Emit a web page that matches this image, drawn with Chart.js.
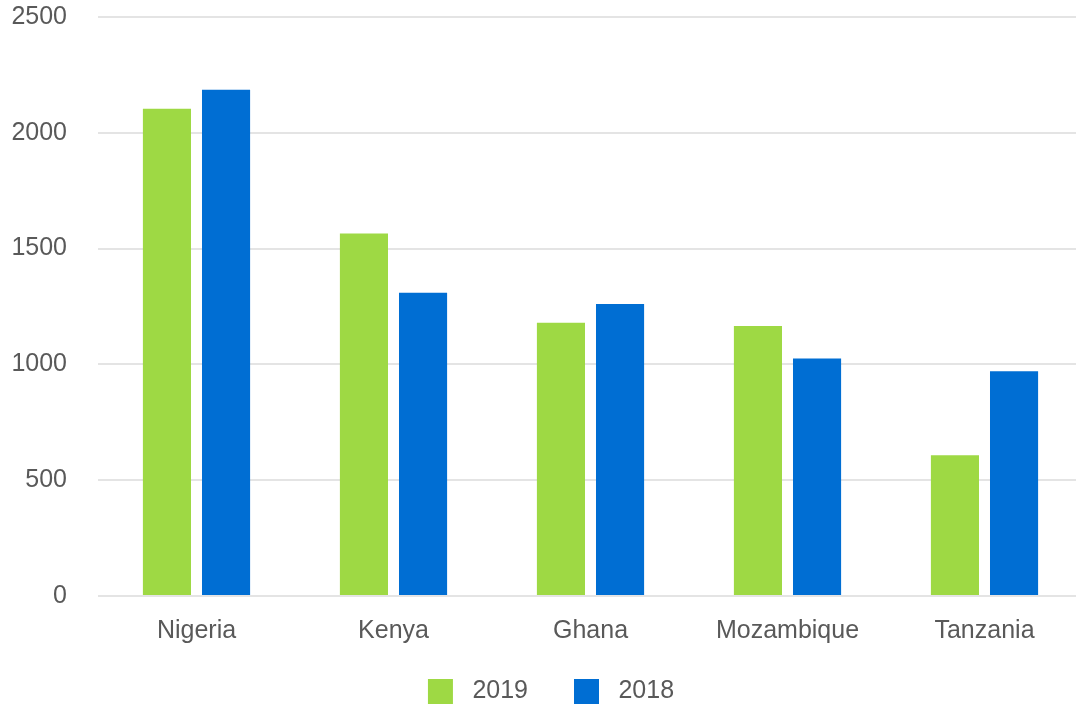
<!DOCTYPE html>
<html>
<head>
<meta charset="utf-8">
<script src="https://cdn.jsdelivr.net/npm/chart.js@4/dist/chart.umd.min.js"></script>
<style>
  html, body { margin: 0; padding: 0; background: #ffffff; overflow: hidden; }
  #wrap { position: relative; width: 1102px; height: 711px; }
</style>
</head>
<body>
<div id="wrap"><canvas id="c"></canvas></div>
<script>
const categories = ["Nigeria", "Kenya", "Ghana", "Mozambique", "Tanzania"];
const seriesNames = ["2019", "2018"];
const values2019 = [2104, 1565, 1180, 1166, 608];
const values2018 = [2186, 1309, 1261, 1025, 970];
const yTicks = [0, 500, 1000, 1500, 2000, 2500];

const FONT = "'Liberation Sans', Arial, sans-serif";
const TEXT = "#595959";

const legendShift = {
  id: 'legendShift',
  afterLayout(chart) {
    const lg = chart.legend;
    if (lg) { lg.left += 4; lg.right += 4; lg.top -= 33; lg.bottom -= 33; }
  }
};

new Chart(document.getElementById('c'), {
  type: 'bar',
  data: {
    labels: categories,
    datasets: [
      { label: seriesNames[0], data: values2019, backgroundColor: '#9ed944', borderWidth: 0,
        categoryPercentage: 0.6, barPercentage: 0.814 },
      { label: seriesNames[1], data: values2018, backgroundColor: '#006ed3', borderWidth: 0,
        categoryPercentage: 0.6, barPercentage: 0.814 }
    ]
  },
  plugins: [legendShift],
  options: {
    responsive: true,
    maintainAspectRatio: false,
    animation: false,
    layout: { padding: { left: 11, right: 19, top: 17, bottom: -36 } },
    plugins: {
      tooltip: { enabled: false },
      legend: {
        position: 'bottom',
        labels: {
          font: { family: FONT, size: 25 },
          color: TEXT,
          boxWidth: 25,
          boxHeight: 25,
          padding: 46,
          generateLabels: function(chart) {
            return chart.data.datasets.map((ds, i) => ({
              text: ' ' + ds.label,
              fillStyle: ds.backgroundColor,
              strokeStyle: ds.backgroundColor,
              lineWidth: 0,
              hidden: false,
              datasetIndex: i,
              fontColor: TEXT
            }));
          }
        }
      }
    },
    scales: {
      x: {
        grid: { display: false, drawTicks: false },
        border: { display: false },
        ticks: { font: { family: FONT, size: 25 }, color: TEXT, padding: 20 }
      },
      y: {
        min: 0,
        max: 2500,
        afterBuildTicks: function(axis) { axis.ticks = yTicks.map(v => ({ value: v })); },
        afterFit: function(scale) { scale.width = 87; scale.paddingTop = 0; scale.paddingBottom = 0; },
        grid: { color: '#e4e4e4', lineWidth: 2, drawTicks: false },
        border: { display: false },
        ticks: { font: { family: FONT, size: 25 }, color: TEXT, padding: 31,
                 callback: function(v) { return String(v); } }
      }
    }
  }
});
</script>
</body>
</html>
